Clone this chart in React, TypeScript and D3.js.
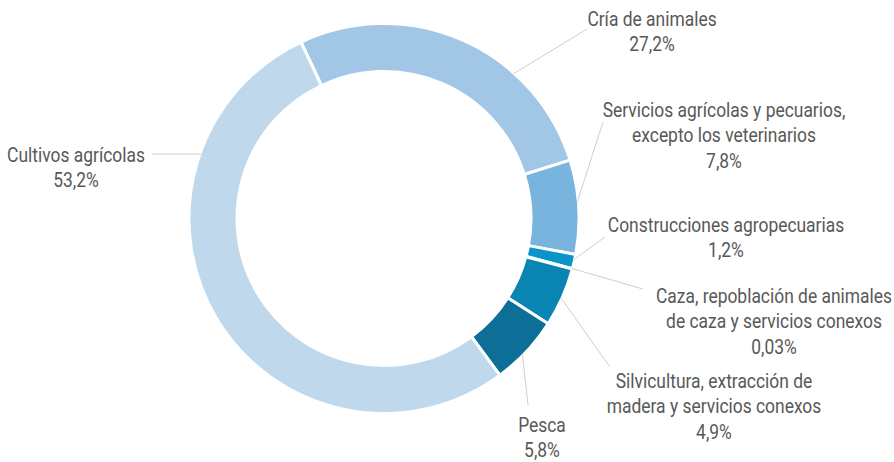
import React, { useEffect, useRef } from "react";
import * as d3 from "d3";

// data
const categories = [
  "Cría de animales",
  "Servicios agrícolas y pecuarios, excepto los veterinarios",
  "Construcciones agropecuarias",
  "Caza, repoblación de animales de caza y servicios conexos",
  "Silvicultura, extracción de madera y servicios conexos",
  "Pesca",
  "Cultivos agrícolas",
];
const values = [27.2, 7.8, 1.2, 0.03, 4.9, 5.8, 53.2];
const valueLabels = ["27,2%", "7,8%", "1,2%", "0,03%", "4,9%", "5,8%", "53,2%"];
const labelLines = [
  ["Cría de animales"],
  ["Servicios agrícolas y pecuarios,", "excepto los veterinarios"],
  ["Construcciones agropecuarias"],
  ["Caza, repoblación de animales", "de caza y servicios conexos"],
  ["Silvicultura, extracción de", "madera y servicios conexos"],
  ["Pesca"],
  ["Cultivos agrícolas"],
];
const colors = ["#a2c7e6", "#79b4de", "#0995ca", "#0a8cbf", "#0a85b3", "#0d6f97", "#bfd8ec"];

// label layout: angle on ring where the leader starts, leader end, text centre / first baseline
const anchorAngles = [41.8, 85.1, 102.3, 104.9, 114.2, 134.5, 289.4];
const leaderEnds = [[587, 29], [603, 122], [605, 237], [643, 289], [610, 367], [528, 405], [152, 154]];
const textPos = [[652, 26], [724, 117], [726, 232], [774, 303], [714, 388], [542, 432], [76, 162]];

const App = () => {
  const ref = useRef<SVGGElement>(null);

  const width = 894;
  const height = 462;
  const cx = 384;
  const cy = 218.5;
  const outerR = 195;
  const innerR = 147;
  const startDeg = -25.2;
  const lineH = 25.5;
  const squeeze = 0.83; // the original face is a condensed sans

  useEffect(() => {
    if (!ref.current) return;
    ref.current.innerHTML = "";
    const g = d3.select(ref.current);

    const toRad = (d: number) => (d * Math.PI) / 180;
    const pie = d3
      .pie<number>()
      .sort(null)
      .value((d) => d)
      .startAngle(toRad(startDeg))
      .endAngle(toRad(startDeg + 360));
    const arc = d3.arc<d3.PieArcDatum<number>>().innerRadius(innerR).outerRadius(outerR);

    const ring = g.append("g").attr("transform", "translate(" + cx + "," + cy + ")");
    ring
      .selectAll("path")
      .data(pie(values))
      .enter()
      .append("path")
      .attr("d", arc)
      .attr("fill", (d, i) => colors[i])
      .attr("stroke", "#fff")
      .attr("stroke-width", 3);

    // leader lines
    g.selectAll(".leader")
      .data(categories)
      .enter()
      .append("line")
      .attr("class", "leader")
      .attr("x1", (d, i) => cx + 194 * Math.sin(toRad(anchorAngles[i])))
      .attr("y1", (d, i) => cy - 194 * Math.cos(toRad(anchorAngles[i])))
      .attr("x2", (d, i) => leaderEnds[i][0])
      .attr("y2", (d, i) => leaderEnds[i][1])
      .attr("stroke", "#cfcfcf")
      .attr("stroke-width", 1);

    // labels
    const labels = g
      .selectAll(".lbl")
      .data(categories)
      .enter()
      .append("text")
      .attr("class", "lbl")
      .attr("transform", (d, i) => "translate(" + textPos[i][0] + "," + textPos[i][1] + ") scale(" + squeeze + ",1)")
      .attr("text-anchor", "middle")
      .attr("fill", "#585858")
      .style("font-family", "Roboto, 'Liberation Sans', sans-serif")
      .style("font-size", "21px");

    labels.each(function (d, i) {
      const t = d3.select(this);
      const lines = [...labelLines[i], valueLabels[i]];
      lines.forEach((s, j) => {
        t.append("tspan")
          .attr("x", 0)
          .attr("y", j * lineH)
          .text(s);
      });
    });
  }, []);

  return (
    <svg width={width} height={height} style={{ position: "absolute", left: 0, top: 0 }}>
      <g ref={ref} />
    </svg>
  );
};

export default App;
